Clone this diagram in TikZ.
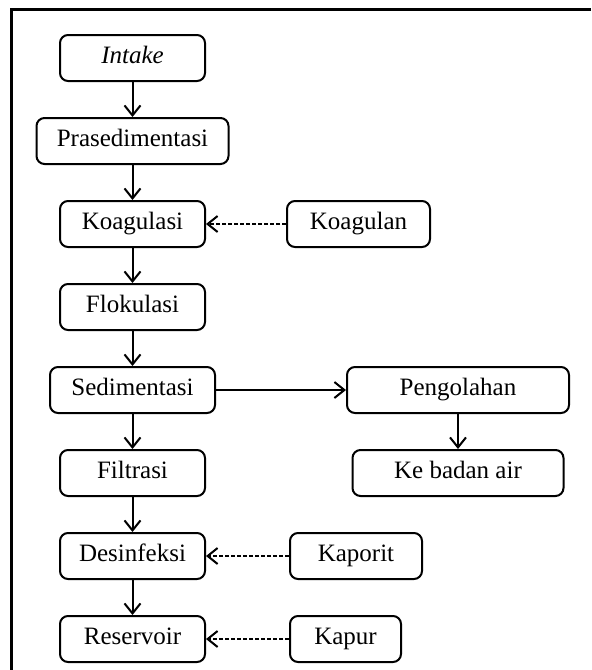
\documentclass[tikz,border=0pt]{standalone}
\usepackage{fontspec}
\setmainfont{Liberation Serif}
\usetikzlibrary{chains,positioning,arrows.meta}

\begin{document}
\begin{tikzpicture}
\tikzstyle{every path}=[line width=1pt]

\edef\heightbox{23pt}
\tikzstyle{procbox}=[draw,rounded corners=4pt,minimum height=\heightbox,inner sep=2pt,
font=\fontsize{12.5}{14}\selectfont,text height=1.6ex,text depth=.3ex]
\tikzstyle{flow}=[-{Straight Barb[length=5pt,width=8pt]}]
\tikzstyle{feed}=[flow,dash pattern=on 2pt off 1pt]

\useasboundingbox (0,0) rectangle (295.5pt,-335pt);

%% Frame (top and left only)
\draw[line width=1.5pt] (295.5pt,-4.75pt) -- (5.75pt,-4.75pt) -- (5.75pt,-335pt);

%% Main process column
\begin{scope}[start chain=1 going below,node distance=17.5pt]
    \node [on chain=1,procbox,minimum width=72.5pt] (intake) at (66.25pt,-29pt) {\textit{Intake}};
    \node [on chain=1,procbox,minimum width=96pt] (prased) {Prasedimentasi};
    \node [on chain=1,procbox,minimum width=72.5pt] (koag) {Koagulasi};
    \node [on chain=1,procbox,minimum width=72.5pt] (flok) {Flokulasi};
    \node [on chain=1,procbox,minimum width=82.5pt] (sedi) {Sedimentasi};
    \node [on chain=1,procbox,minimum width=72.5pt] (filt) {Filtrasi};
    \node [on chain=1,procbox,minimum width=72.5pt] (desinf) {Desinfeksi};
    \node [on chain=1,procbox,minimum width=72.5pt] (reserv) {Reservoir};
\end{scope}

%% Side inputs and sludge line
\node [procbox,minimum width=71.5pt,right=40pt of koag] (koagulan) {Koagulan};
\node [procbox,minimum width=111pt,right=65pt of sedi] (olah) {Pengolahan};
\node [procbox,minimum width=105.5pt,below=17.5pt of olah] (badan) {Ke badan air};
\node [procbox,minimum width=66pt,right=41.5pt of desinf] (kaporit) {Kaporit};
\node [procbox,minimum width=55.5pt,right=41.5pt of reserv] (kapur) {Kapur};

%% Connectors
\draw[flow] (intake) -- (prased);
\draw[flow] (prased) -- (koag);
\draw[flow] (koag) -- (flok);
\draw[flow] (flok) -- (sedi);
\draw[flow] (sedi) -- (filt);
\draw[flow] (filt) -- (desinf);
\draw[flow] (desinf) -- (reserv);
\draw[flow] (sedi) -- (olah);
\draw[flow] (olah) -- (badan);
\draw[feed] (koagulan) -- (koag);
\draw[feed] (kaporit) -- (desinf);
\draw[feed] (kapur) -- (reserv);
\end{tikzpicture}
\end{document}
